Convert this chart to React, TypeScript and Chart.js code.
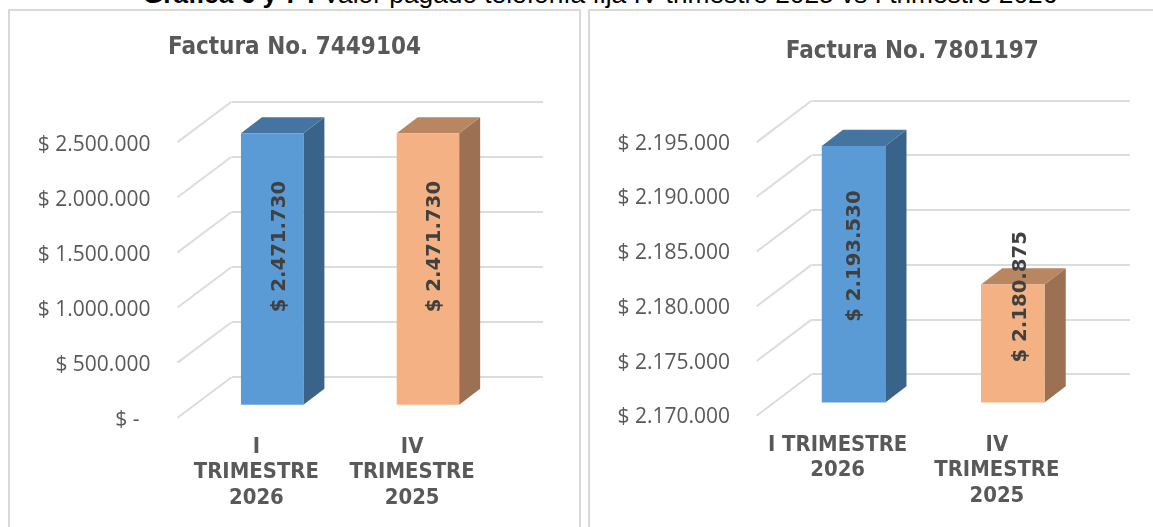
import React, { useEffect, useRef } from "react";
import { Chart, registerables } from "chart.js";

Chart.register(...registerables);

const leftCategories = [["I", "TRIMESTRE", "2026"], ["IV", "TRIMESTRE", "2025"]];
const leftValues = [2471730, 2471730];
const leftTitle = "Factura No. 7449104";
const rightCategories = [["I TRIMESTRE", "2026"], ["IV", "TRIMESTRE", "2025"]];
const rightValues = [2193530, 2180875];
const rightTitle = "Factura No. 7801197";
const pageTitleBold = "Gráfica 6 y 7 :";
const pageTitleRest = " Valor pagado telefonía fija IV trimestre 2025 vs I trimestre 2026";

const FRONT = ["#5B9BD5", "#F4B183"];
const SIDE = ["#3A6389", "#9C7052"];
const TOP = ["#4574A0", "#B98662"];
const GRID = "#DCDCDC";
const TEXT = "#595959";
const LABEL = "#404040";

const fmt = (v: number) =>
  v === 0 ? "$ -\u00A0\u00A0" : "$ " + String(v).replace(/\B(?=(\d{3})+(?!\d))/g, ".");

const cubePlugin = {
  id: "cube",
  afterLayout(chart: any, _a: any, o: any) {
    const t = chart.titleBlock;
    t.left = 0;
    t.right = 2 * o.titleCenter;
  },
  beforeDatasetsDraw(chart: any, _a: any, o: any) {
    const { ctx, scales } = chart;
    const y = scales.y;
    const { left } = chart.chartArea;
    ctx.save();
    ctx.strokeStyle = GRID;
    ctx.lineWidth = 2;
    y.ticks.forEach((t: any) => {
      const py = y.getPixelForValue(t.value);
      ctx.beginPath();
      ctx.moveTo(left, py);
      ctx.lineTo(left - o.floorX, py + o.floorY);
      ctx.stroke();
    });
    ctx.restore();
  },
  beforeDatasetDraw(chart: any, args: any, o: any) {
    const { ctx } = chart;
    ctx.save();
    ctx.translate(o.shiftX, o.shiftY);
    args.meta.data.forEach((el: any, i: number) => {
      const hw = el.width / 2;
      const r = el.x + hw;
      const l = el.x - hw;
      ctx.fillStyle = SIDE[i];
      ctx.beginPath();
      ctx.moveTo(r, el.y);
      ctx.lineTo(r + o.depthX, el.y - o.depthY);
      ctx.lineTo(r + o.depthX, el.base - o.depthY);
      ctx.lineTo(r, el.base);
      ctx.closePath();
      ctx.fill();
      ctx.fillStyle = TOP[i];
      ctx.beginPath();
      ctx.moveTo(l, el.y);
      ctx.lineTo(l + o.depthX, el.y - o.depthY);
      ctx.lineTo(r + o.depthX, el.y - o.depthY);
      ctx.lineTo(r, el.y);
      ctx.closePath();
      ctx.fill();
    });
  },
  afterDatasetDraw(chart: any) {
    chart.ctx.restore();
  },
  afterDatasetsDraw(chart: any, _a: any, o: any) {
    const { ctx } = chart;
    const meta = chart.getDatasetMeta(0);
    const vals = chart.data.datasets[0].data;
    meta.data.forEach((el: any, i: number) => {
      ctx.save();
      ctx.translate(el.x + o.labelDx[i], (el.y + el.base) / 2 + o.labelDy[i]);
      ctx.rotate(-Math.PI / 2);
      ctx.font = "bold 19.7px 'DejaVu Sans'";
      ctx.fillStyle = LABEL;
      ctx.textAlign = "center";
      ctx.textBaseline = "middle";
      ctx.fillText(fmt(vals[i]), 0, 0);
      ctx.restore();
    });
  },
};

type PanelProps = {
  categories: string[][];
  values: number[];
  title: string;
  min: number;
  max: number;
  step: number;
  box: { left: number; top: number; width: number; height: number };
  area: { left: number; right: number; top: number; bottom: number };
  titlePad: number;
  labelEnd: number;
  xLabelPad: number;
  xLabelShift: number;
  cube: any;
};

function Panel(p: PanelProps) {
  const ref = useRef<HTMLCanvasElement | null>(null);
  useEffect(() => {
    const a = p.area;
    const chart = new Chart(ref.current as HTMLCanvasElement, {
      type: "bar",
      data: {
        labels: p.categories as any,
        datasets: [
          {
            data: p.values,
            base: p.min,
            backgroundColor: FRONT,
            borderWidth: 0,
            barPercentage: p.cube.barPct,
            categoryPercentage: 1,
            clip: false,
          } as any,
        ],
      },
      plugins: [cubePlugin as any],
      options: {
        animation: false,
        responsive: false,
        layout: { padding: { left: 0, top: 0, bottom: 0, right: p.box.width - a.right } },
        plugins: {
          legend: { display: false },
          tooltip: { enabled: false },
          title: {
            display: true,
            text: p.title,
            color: TEXT,
            font: { family: "'DejaVu Sans Condensed'", size: 24, weight: "bold", lineHeight: 1.2 },
            padding: { top: p.titlePad, bottom: a.top - p.titlePad - 28.8 },
          },
          cube: p.cube,
        } as any,
        scales: {
          x: {
            grid: { display: false, drawTicks: false },
            border: { display: false },
            afterFit(s: any) {
              s.height = p.box.height - a.bottom;
              s.paddingLeft = 0;
              s.paddingRight = 0;
            },
            ticks: {
              autoSkip: false,
              maxRotation: 0,
              minRotation: 0,
              padding: p.xLabelPad,
              labelOffset: p.xLabelShift,
              color: TEXT,
              font: { family: "'DejaVu Sans Condensed'", size: 21.9, weight: "bold", lineHeight: 1.165 },
            },
          },
          y: {
            min: p.min,
            max: p.max,
            grid: { color: GRID, lineWidth: 2, drawTicks: false },
            border: { display: false },
            afterFit(s: any) {
              s.width = a.left;
              s.paddingTop = 0;
              s.paddingBottom = 0;
            },
            ticks: {
              stepSize: p.step,
              padding: a.left - p.labelEnd,
              labelOffset: 43,
              color: TEXT,
              font: { family: "'Open Sans'", size: 21 },
              callback: (v: any) => fmt(Number(v)),
            },
          },
        },
      } as any,
    });
    return () => chart.destroy();
  }, []);
  return (
    <canvas
      ref={ref}
      width={p.box.width}
      height={p.box.height}
      style={{ position: "absolute", left: p.box.left, top: p.box.top, display: "block" }}
    />
  );
}

const frame = (left: number, width: number): React.CSSProperties => ({
  position: "absolute",
  left,
  top: 9,
  width,
  height: 600,
  border: "2px solid #D9D9D9",
  boxSizing: "border-box",
  background: "#fff",
});

export default function App() {
  return (
    <div
      style={{
        position: "fixed",
        left: 0,
        top: 0,
        width: 1153,
        height: 527,
        overflow: "hidden",
        background: "#fff",
      }}
    >
      <div style={frame(8, 573)} />
      <div style={frame(588, 700)} />
      <div
        style={{
          position: "absolute",
          left: 0,
          width: 1200,
          top: -21,
          textAlign: "center",
          font: "26.3px 'Liberation Sans'",
          color: "#000",
          whiteSpace: "nowrap",
        }}
      >
        <b>{pageTitleBold}</b>
        {pageTitleRest}
      </div>
      <Panel
        categories={leftCategories}
        values={leftValues}
        title={leftTitle}
        min={0}
        max={2500000}
        step={500000}
        box={{ left: 10, top: 11, width: 569, height: 516 }}
        area={{ left: 221.5, right: 533, top: 90.7, bottom: 366.3 }}
        titlePad={22.2}
        labelEnd={140.4}
        xLabelPad={57.2}
        xLabelShift={-53}
        cube={{
          barPct: 0.401,
          floorX: 54,
          floorY: 40.4,
          shiftX: -37.2,
          shiftY: 28.5,
          depthX: 21,
          depthY: 16,
          labelDx: [-29, -30.4],
          labelDy: [6, 6],
          titleCenter: 284.5,
        }}
      />
      <Panel
        categories={rightCategories}
        values={rightValues}
        title={rightTitle}
        min={2170000}
        max={2195000}
        step={5000}
        box={{ left: 590, top: 11, width: 563, height: 516 }}
        area={{ left: 221.5, right: 540, top: 89.7, bottom: 363.3 }}
        titlePad={26.4}
        labelEnd={140}
        xLabelPad={58}
        xLabelShift={-53.5}
        cube={{
          barPct: 0.399,
          floorX: 54.8,
          floorY: 41.4,
          shiftX: -37.6,
          shiftY: 29.2,
          depthX: 21.2,
          depthY: 16.3,
          labelDx: [-36, -29],
          labelDy: [11, -17.5],
          titleCenter: 322.3,
        }}
      />
    </div>
  );
}
